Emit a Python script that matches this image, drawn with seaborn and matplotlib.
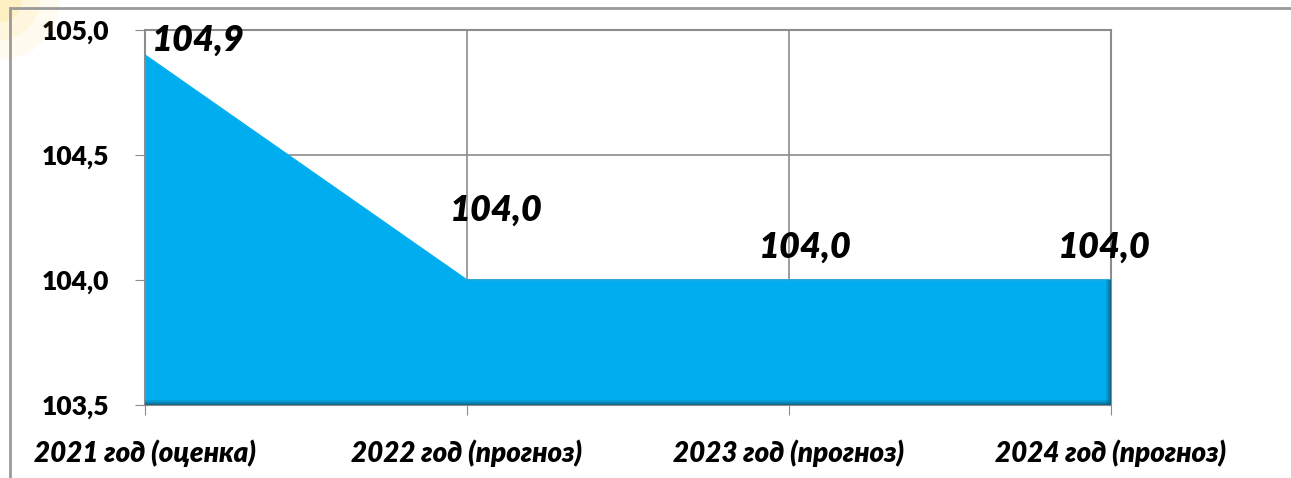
import matplotlib
matplotlib.use("Agg")
import matplotlib.pyplot as plt
import seaborn as sns
import pandas as pd
from matplotlib.patches import Rectangle, Ellipse

categories = ["2021 год (оценка)", "2022 год (прогноз)", "2023 год (прогноз)", "2024 год (прогноз)"]
values = [104.9, 104.0, 104.0, 104.0]
value_labels = ["104,9", "104,0", "104,0", "104,0"]
y_ticks = [103.5, 104.0, 104.5, 105.0]
y_tick_labels = ["103,5", "104,0", "104,5", "105,0"]

sns.set_style("white")
plt.rcParams["font.family"] = ["Lato", "Open Sans", "DejaVu Sans"]
plt.rcParams["text.color"] = "black"

df = pd.DataFrame({"x": range(len(categories)), "value": values})

fig = plt.figure(figsize=(12.91, 4.78), dpi=100)

# soft yellow glow in the top-left corner of the slide
for r, a in [(60, 0.08), (40, 0.12), (22, 0.18)]:
    fig.patches.append(Ellipse((0, 1), 2 * r / 1291, 2 * r / 478, transform=fig.transFigure,
                               color="#ffd84d", alpha=a, linewidth=0, zorder=0))

ax = fig.add_axes([0.1123, 0.1527, 0.7483, 0.7845])

fill = "#00AEEF"
ax.fill_between(df["x"], df["value"], y_ticks[0], color=fill, linewidth=0, zorder=2)
sns.lineplot(data=df, x="x", y="value", color=fill, linewidth=1, ax=ax, zorder=3)
# darker bevel along the bottom and right edge
for w, a in [(7, 0.25), (4, 0.45), (2, 0.7)]:
    ax.hlines(y_ticks[0], df["x"].iloc[0], df["x"].iloc[-1], color="#075f80", linewidth=w, alpha=a, zorder=3)
    ax.vlines(df["x"].iloc[-1], y_ticks[0], values[-1], color="#075f80", linewidth=w, alpha=a, zorder=3)

ax.set_xlim(0, len(categories) - 1)
ax.set_ylim(y_ticks[0], y_ticks[-1])
ax.set_xticks(range(len(categories)))
ax.set_xticklabels(categories, fontsize=20, fontweight="heavy", fontstyle="italic", color="black")
ax.set_yticks(y_ticks)
ax.set_yticklabels(y_tick_labels, fontsize=19, fontweight="heavy", color="black")
ax.set_xlabel("")
ax.set_ylabel("")
ax.grid(True, color="#8c8c8c", linewidth=1.2, zorder=1)
ax.set_axisbelow(True)
for s in ax.spines.values():
    s.set_color("#8c8c8c")
    s.set_linewidth(1.5)
ax.tick_params(axis="y", length=7, color="#8c8c8c", pad=19, left=True)
ax.tick_params(axis="x", length=7, color="#8c8c8c", pad=18, bottom=True)

offsets = [(0.02, 0.06, "left"), (0.09, 0.28, "center"), (0.05, 0.13, "center"), (-0.02, 0.13, "center")]
for i, (lab, v) in enumerate(zip(value_labels, values)):
    dx, dy, ha = offsets[i]
    ax.text(i + dx, v + dy, lab, fontsize=26, fontweight="heavy", fontstyle="italic",
            color="black", ha=ha, va="center", zorder=5, clip_on=False)

# outer frame of the slide
fig.patches.append(Rectangle((10 / 1291, -0.05), 1.2, 1 - 8 / 478 + 0.05, transform=fig.transFigure,
                             fill=False, edgecolor="#9a9a9a", linewidth=2, zorder=1))

fig.savefig("out.png", dpi=100)
